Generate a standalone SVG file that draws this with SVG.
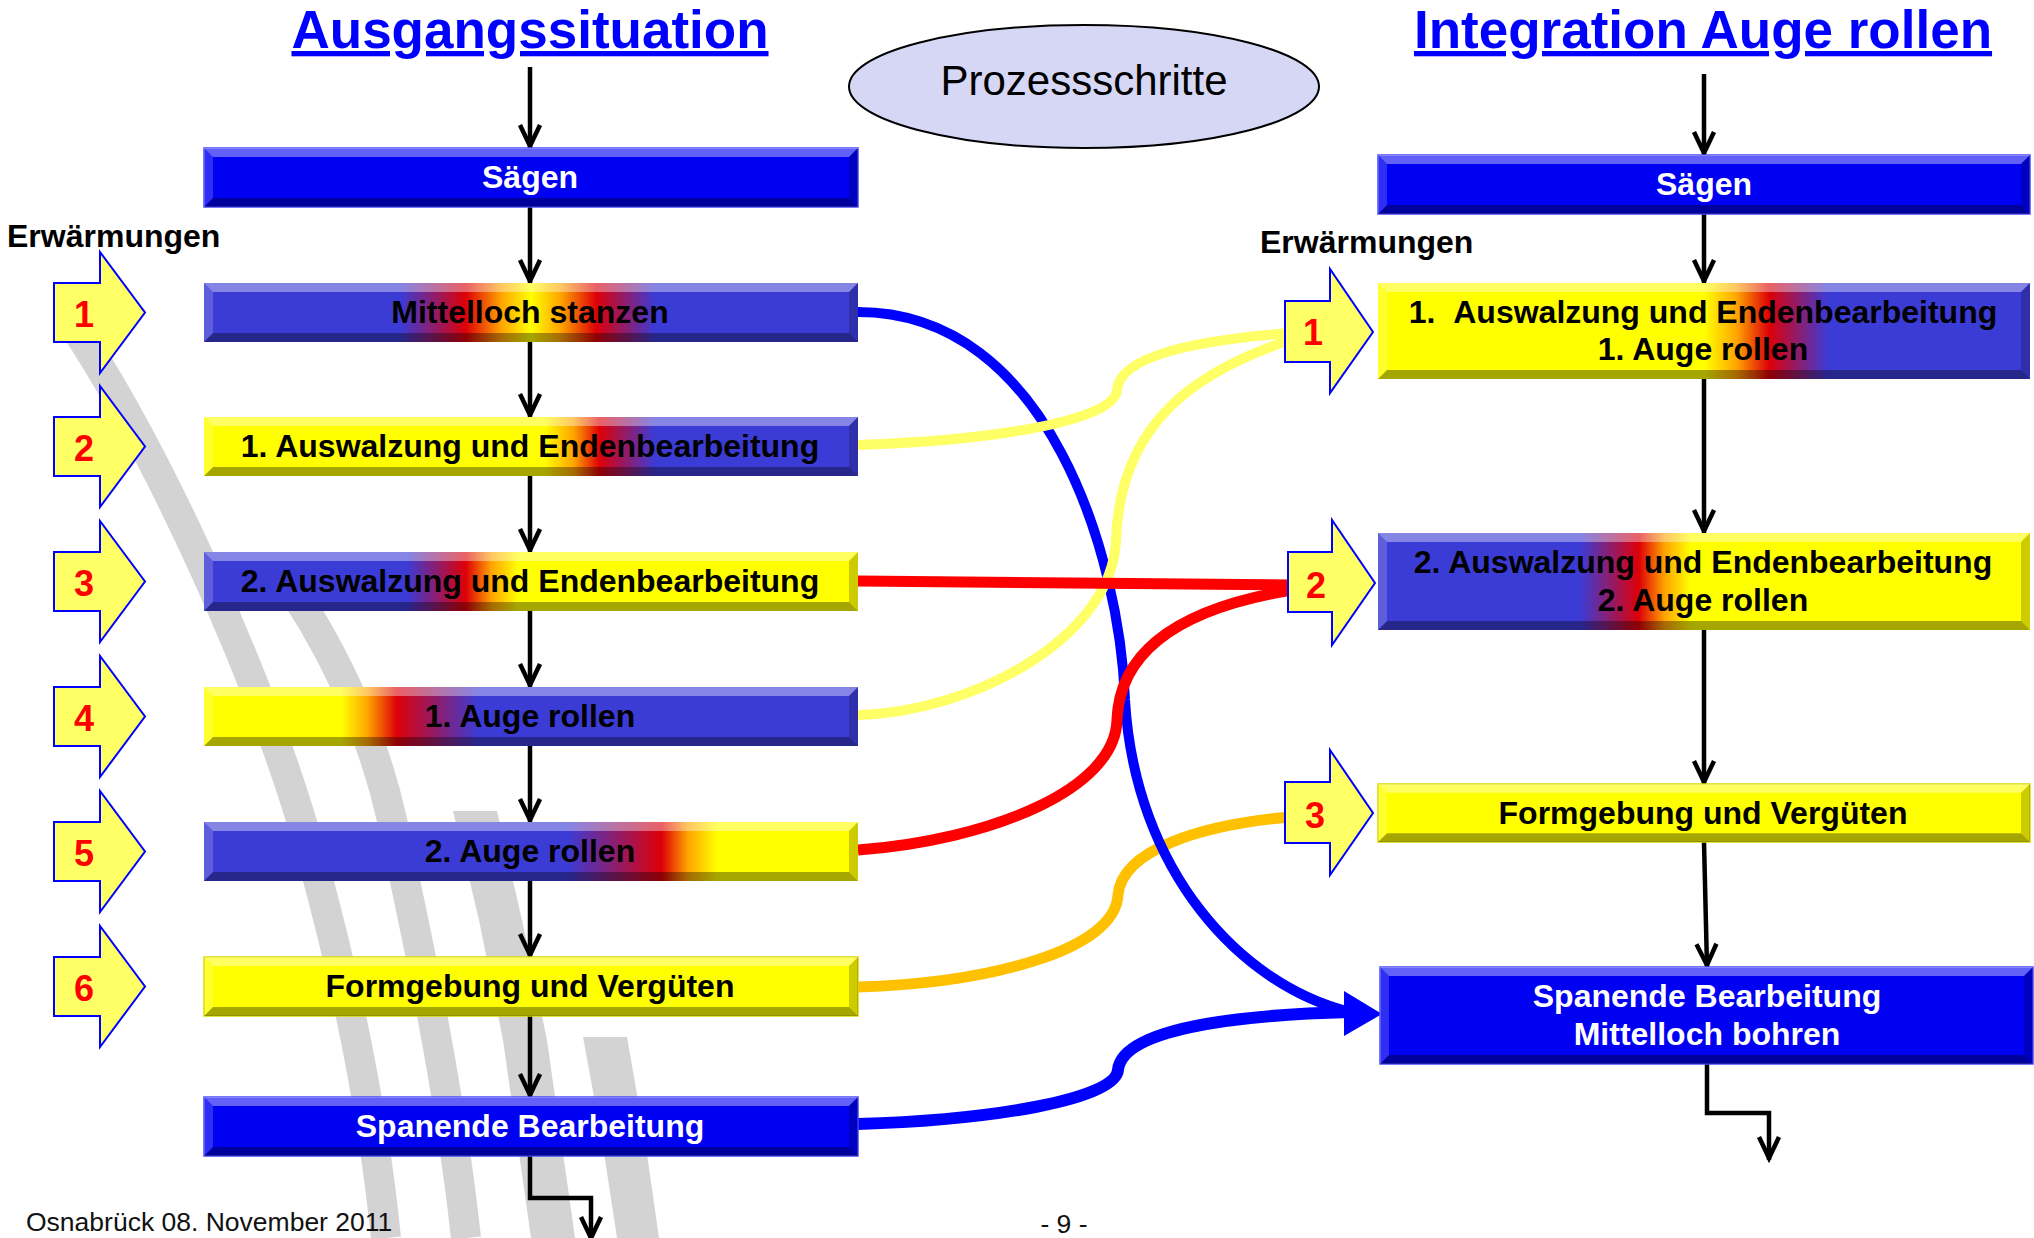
<svg xmlns="http://www.w3.org/2000/svg" width="2034" height="1238" viewBox="0 0 2034 1238">
<style>
.bt{font-family:"Liberation Sans",Arial,sans-serif;font-weight:bold;font-size:32px;text-anchor:middle}
.wt{fill:#ffffff}
.kt{fill:#000000}
.num{font-family:"Liberation Sans",Arial,sans-serif;font-weight:bold;font-size:36px;fill:#ff0000;text-anchor:middle}
.ttl{font-family:"Liberation Sans",Arial,sans-serif;font-weight:bold;font-size:53px;fill:#0000ff;text-anchor:middle;text-decoration:underline}
.erw{font-family:"Liberation Sans",Arial,sans-serif;font-weight:bold;font-size:32px;fill:#000000}
.foot{font-family:"Liberation Sans",Arial,sans-serif;font-size:26.5px;fill:#111111}
.harrow{fill:#ffff66;stroke:#0000ff;stroke-width:2}
.flow{fill:none;stroke:#000000;stroke-width:4.5;marker-end:url(#ah)}
.flowp{fill:none;stroke:#000000;stroke-width:4.5;stroke-linejoin:miter;marker-end:url(#ah)}
.band{fill:none;stroke:#d3d3d3;stroke-width:30}
.bandp{fill:#d3d3d3}
.sb{fill:#0000f2;stroke:#4a4aff;stroke-width:1.5}
.sy{fill:#ffff00;stroke:#d8d800;stroke-width:1.5}
.cv{fill:none}
</style>
<defs>
<marker id="ah" viewBox="-26 -13 30 26" refX="0" refY="0" markerWidth="30" markerHeight="26" markerUnits="userSpaceOnUse" orient="auto">
<path d="M-23,-10 L-2,0 L-23,10" fill="none" stroke="#000" stroke-width="4.5"/>
</marker>
<linearGradient id="gMid">
<stop offset="0" stop-color="#3b3bd6"/><stop offset="0.30" stop-color="#3b3bd6"/><stop offset="0.40" stop-color="#dd0008"/><stop offset="0.455" stop-color="#ffa500"/><stop offset="0.50" stop-color="#ffff00"/><stop offset="0.545" stop-color="#ffa500"/><stop offset="0.60" stop-color="#dd0008"/><stop offset="0.69" stop-color="#3b3bd6"/><stop offset="1" stop-color="#3b3bd6"/>
</linearGradient>
<linearGradient id="gYB1">
<stop offset="0" stop-color="#ffff00"/><stop offset="0.52" stop-color="#ffff00"/><stop offset="0.565" stop-color="#ffa500"/><stop offset="0.605" stop-color="#dd0008"/><stop offset="0.69" stop-color="#3b3bd6"/><stop offset="1" stop-color="#3b3bd6"/>
</linearGradient>
<linearGradient id="gYB2">
<stop offset="0" stop-color="#ffff00"/><stop offset="0.50" stop-color="#ffff00"/><stop offset="0.55" stop-color="#ffa500"/><stop offset="0.60" stop-color="#dd0008"/><stop offset="0.69" stop-color="#3b3bd6"/><stop offset="1" stop-color="#3b3bd6"/>
</linearGradient>
<linearGradient id="gBY">
<stop offset="0" stop-color="#3b3bd6"/><stop offset="0.31" stop-color="#3b3bd6"/><stop offset="0.40" stop-color="#dd0008"/><stop offset="0.44" stop-color="#ffa500"/><stop offset="0.48" stop-color="#ffff00"/><stop offset="1" stop-color="#ffff00"/>
</linearGradient>
<linearGradient id="gA1">
<stop offset="0" stop-color="#ffff00"/><stop offset="0.21" stop-color="#ffff00"/><stop offset="0.25" stop-color="#ffa500"/><stop offset="0.295" stop-color="#dd0008"/><stop offset="0.42" stop-color="#3b3bd6"/><stop offset="1" stop-color="#3b3bd6"/>
</linearGradient>
<linearGradient id="gA2">
<stop offset="0" stop-color="#3b3bd6"/><stop offset="0.555" stop-color="#3b3bd6"/><stop offset="0.70" stop-color="#dd0008"/><stop offset="0.74" stop-color="#ffa500"/><stop offset="0.785" stop-color="#ffff00"/><stop offset="1" stop-color="#ffff00"/>
</linearGradient>
<symbol id="bvS" viewBox="0 0 654 59" preserveAspectRatio="none">
<polygon points="0,0 654,0 645,9 9,9" fill="#ffffff" opacity="0.38"/>
<polygon points="0,59 654,59 645,50 9,50" fill="#000000" opacity="0.35"/>
<polygon points="0,0 9,9 9,50 0,59" fill="#ffffff" opacity="0.18"/>
<polygon points="654,0 645,9 645,50 654,59" fill="#000000" opacity="0.2"/>
</symbol>
<symbol id="bvT" viewBox="0 0 654 97" preserveAspectRatio="none">
<polygon points="0,0 654,0 645,9 9,9" fill="#ffffff" opacity="0.38"/>
<polygon points="0,97 654,97 645,88 9,88" fill="#000000" opacity="0.35"/>
<polygon points="0,0 9,9 9,88 0,97" fill="#ffffff" opacity="0.18"/>
<polygon points="654,0 645,9 645,88 654,97" fill="#000000" opacity="0.2"/>
</symbol>
</defs>

<rect x="0" y="0" width="2034" height="1238" fill="#ffffff"/>

<g id="watermark">
<path class="band" d="M70,320 C 160,455 262,680 310,850 C 345,975 372,1100 386,1238"/>
<path class="band" d="M275,565 C 330,640 372,730 392,820 C 418,940 450,1090 466,1238"/>
<polygon class="bandp" points="453,811 497,811 522,920 547,1040 575,1238 531,1238 503,1040 479,920"/>
<polygon class="bandp" points="583,1037 627,1037 645,1140 659,1238 617,1238 602,1140"/>
</g>

<g id="titles">
<text class="ttl" x="530" y="48">Ausgangssituation</text>
<text class="ttl" x="1703" y="48">Integration Auge rollen</text>
<text class="erw" x="7" y="247">Erwärmungen</text>
<text class="erw" x="1260" y="253">Erwärmungen</text>
</g>

<g id="prozessschritte">
<ellipse cx="1084" cy="86.5" rx="235" ry="61.5" fill="#d5d7f5" stroke="#000" stroke-width="2"/>
<text x="1084" y="95" font-family="Liberation Sans, Arial, sans-serif" font-size="42" text-anchor="middle" fill="#000">Prozessschritte</text>
</g>

<g id="connectors">
<line class="flow" x1="530" y1="67" x2="530" y2="148"/>
<line class="flow" x1="530" y1="207" x2="530" y2="283"/>
<line class="flow" x1="530" y1="342" x2="530" y2="417"/>
<line class="flow" x1="530" y1="476" x2="530" y2="552"/>
<line class="flow" x1="530" y1="611" x2="530" y2="687"/>
<line class="flow" x1="530" y1="746" x2="530" y2="822"/>
<line class="flow" x1="530" y1="881" x2="530" y2="957"/>
<line class="flow" x1="530" y1="1016" x2="530" y2="1097"/>
<polyline class="flowp" points="530,1156 530,1198 591,1198 591,1240"/>
<line class="flow" x1="1704" y1="74" x2="1704" y2="155"/>
<line class="flow" x1="1704" y1="214" x2="1704" y2="283"/>
<line class="flow" x1="1704" y1="379" x2="1704" y2="533"/>
<line class="flow" x1="1704" y1="630" x2="1704" y2="784"/>
<line class="flow" x1="1704" y1="842" x2="1707" y2="967"/>
<polyline class="flowp" points="1707,1064 1707,1113 1769,1113 1769,1160"/>

<path class="cv" stroke="#ffc000" stroke-width="11" d="M858,987 C 990,983 1115,950 1118,895 C 1122,850 1200,825 1290,817"/>
<path class="cv" stroke="#0000ff" stroke-width="10" d="M858,312 C 1050,312 1120,560 1125,700 C 1135,870 1240,985 1350,1012"/>
<path class="cv" stroke="#ffff66" stroke-width="10" d="M858,445 C 1000,440 1115,420 1117,390 C 1120,355 1200,340 1290,333"/>
<path class="cv" stroke="#ffff66" stroke-width="10" d="M858,715 C 970,712 1112,640 1116,540 C 1120,420 1200,370 1290,340"/>
<path class="cv" stroke="#ff0000" stroke-width="11" d="M858,850 C 990,840 1115,790 1117,720 C 1120,640 1200,605 1292,590"/>
<path class="cv" stroke="#ff0000" stroke-width="11" d="M858,581 L1292,585"/>
<path class="cv" stroke="#0000ff" stroke-width="12" d="M858,1124 C 990,1120 1115,1100 1118,1070 C 1122,1030 1230,1015 1350,1012"/>
<polygon points="1344,991 1382,1014 1344,1036" fill="#0000ff"/>
</g>

<g id="L-saegen">
<rect class="sb" x="204" y="148" width="654" height="59"/>
<use href="#bvS" x="204" y="148" width="654" height="59"/>
<text class="bt wt" x="530" y="188">Sägen</text>
</g>
<g id="L-mittelloch">
<rect x="204" y="283" width="654" height="59" fill="url(#gMid)"/>
<use href="#bvS" x="204" y="283" width="654" height="59"/>
<text class="bt kt" x="530" y="323">Mittelloch stanzen</text>
</g>
<g id="L-auswalzung1">
<rect x="204" y="417" width="654" height="59" fill="url(#gYB1)"/>
<use href="#bvS" x="204" y="417" width="654" height="59"/>
<text class="bt kt" x="530" y="457">1. Auswalzung und Endenbearbeitung</text>
</g>
<g id="L-auswalzung2">
<rect x="204" y="552" width="654" height="59" fill="url(#gBY)"/>
<use href="#bvS" x="204" y="552" width="654" height="59"/>
<text class="bt kt" x="530" y="592">2. Auswalzung und Endenbearbeitung</text>
</g>
<g id="L-auge1">
<rect x="204" y="687" width="654" height="59" fill="url(#gA1)"/>
<use href="#bvS" x="204" y="687" width="654" height="59"/>
<text class="bt kt" x="530" y="727">1. Auge rollen</text>
</g>
<g id="L-auge2">
<rect x="204" y="822" width="654" height="59" fill="url(#gA2)"/>
<use href="#bvS" x="204" y="822" width="654" height="59"/>
<text class="bt kt" x="530" y="862">2. Auge rollen</text>
</g>
<g id="L-formgebung">
<rect class="sy" x="204" y="957" width="654" height="59"/>
<use href="#bvS" x="204" y="957" width="654" height="59"/>
<text class="bt kt" x="530" y="997">Formgebung und Vergüten</text>
</g>
<g id="L-spanende">
<rect class="sb" x="204" y="1097" width="654" height="59"/>
<use href="#bvS" x="204" y="1097" width="654" height="59"/>
<text class="bt wt" x="530" y="1137">Spanende Bearbeitung</text>
</g>

<g id="L-heat1"><polygon class="harrow" points="54,283 100,283 100,252 145,312.5 100,373 100,342 54,342"/><text class="num" x="84" y="327">1</text></g>
<g id="L-heat2"><polygon class="harrow" points="54,417 100,417 100,386 145,446.5 100,507 100,476 54,476"/><text class="num" x="84" y="461">2</text></g>
<g id="L-heat3"><polygon class="harrow" points="54,552 100,552 100,521 145,581.5 100,642 100,611 54,611"/><text class="num" x="84" y="596">3</text></g>
<g id="L-heat4"><polygon class="harrow" points="54,687 100,687 100,656 145,716.5 100,777 100,746 54,746"/><text class="num" x="84" y="731">4</text></g>
<g id="L-heat5"><polygon class="harrow" points="54,822 100,822 100,791 145,851.5 100,912 100,881 54,881"/><text class="num" x="84" y="866">5</text></g>
<g id="L-heat6"><polygon class="harrow" points="54,957 100,957 100,926 145,986.5 100,1047 100,1016 54,1016"/><text class="num" x="84" y="1001">6</text></g>

<g id="R-saegen">
<rect class="sb" x="1378" y="155" width="652" height="59"/>
<use href="#bvS" x="1378" y="155" width="652" height="59"/>
<text class="bt wt" x="1704" y="195">Sägen</text>
</g>
<g id="R-auswalzung1">
<rect x="1378" y="283" width="652" height="96" fill="url(#gYB2)"/>
<use href="#bvT" x="1378" y="283" width="652" height="96"/>
<text class="bt kt" x="1703" y="323">1. &#160;Auswalzung und Endenbearbeitung</text>
<text class="bt kt" x="1703" y="360">1. Auge rollen</text>
</g>
<g id="R-auswalzung2">
<rect x="1378" y="533" width="652" height="97" fill="url(#gBY)"/>
<use href="#bvT" x="1378" y="533" width="652" height="97"/>
<text class="bt kt" x="1703" y="573">2. Auswalzung und Endenbearbeitung</text>
<text class="bt kt" x="1703" y="611">2. Auge rollen</text>
</g>
<g id="R-formgebung">
<rect class="sy" x="1378" y="784" width="652" height="58"/>
<use href="#bvS" x="1378" y="784" width="652" height="58"/>
<text class="bt kt" x="1703" y="824">Formgebung und Vergüten</text>
</g>
<g id="R-spanende">
<rect class="sb" x="1380" y="967" width="653" height="97"/>
<use href="#bvT" x="1380" y="967" width="653" height="97"/>
<text class="bt wt" x="1707" y="1007">Spanende Bearbeitung</text>
<text class="bt wt" x="1707" y="1045">Mittelloch bohren</text>
</g>

<g id="R-heat1"><polygon class="harrow" points="1285,301 1330,301 1330,269 1373,332 1330,393 1330,362 1285,362"/><text class="num" x="1313" y="345">1</text></g>
<g id="R-heat2"><polygon class="harrow" points="1288,552 1332,552 1332,520 1375,583 1332,645 1332,612 1288,612"/><text class="num" x="1316" y="598">2</text></g>
<g id="R-heat3"><polygon class="harrow" points="1285,782 1330,782 1330,750 1373,813 1330,875 1330,843 1285,843"/><text class="num" x="1315" y="828">3</text></g>

<g id="footer">
<text class="foot" x="26" y="1231">Osnabrück 08. November 2011</text>
<text class="foot" x="1064" y="1233" font-size="24" text-anchor="middle">- 9 -</text>
</g>
</svg>
